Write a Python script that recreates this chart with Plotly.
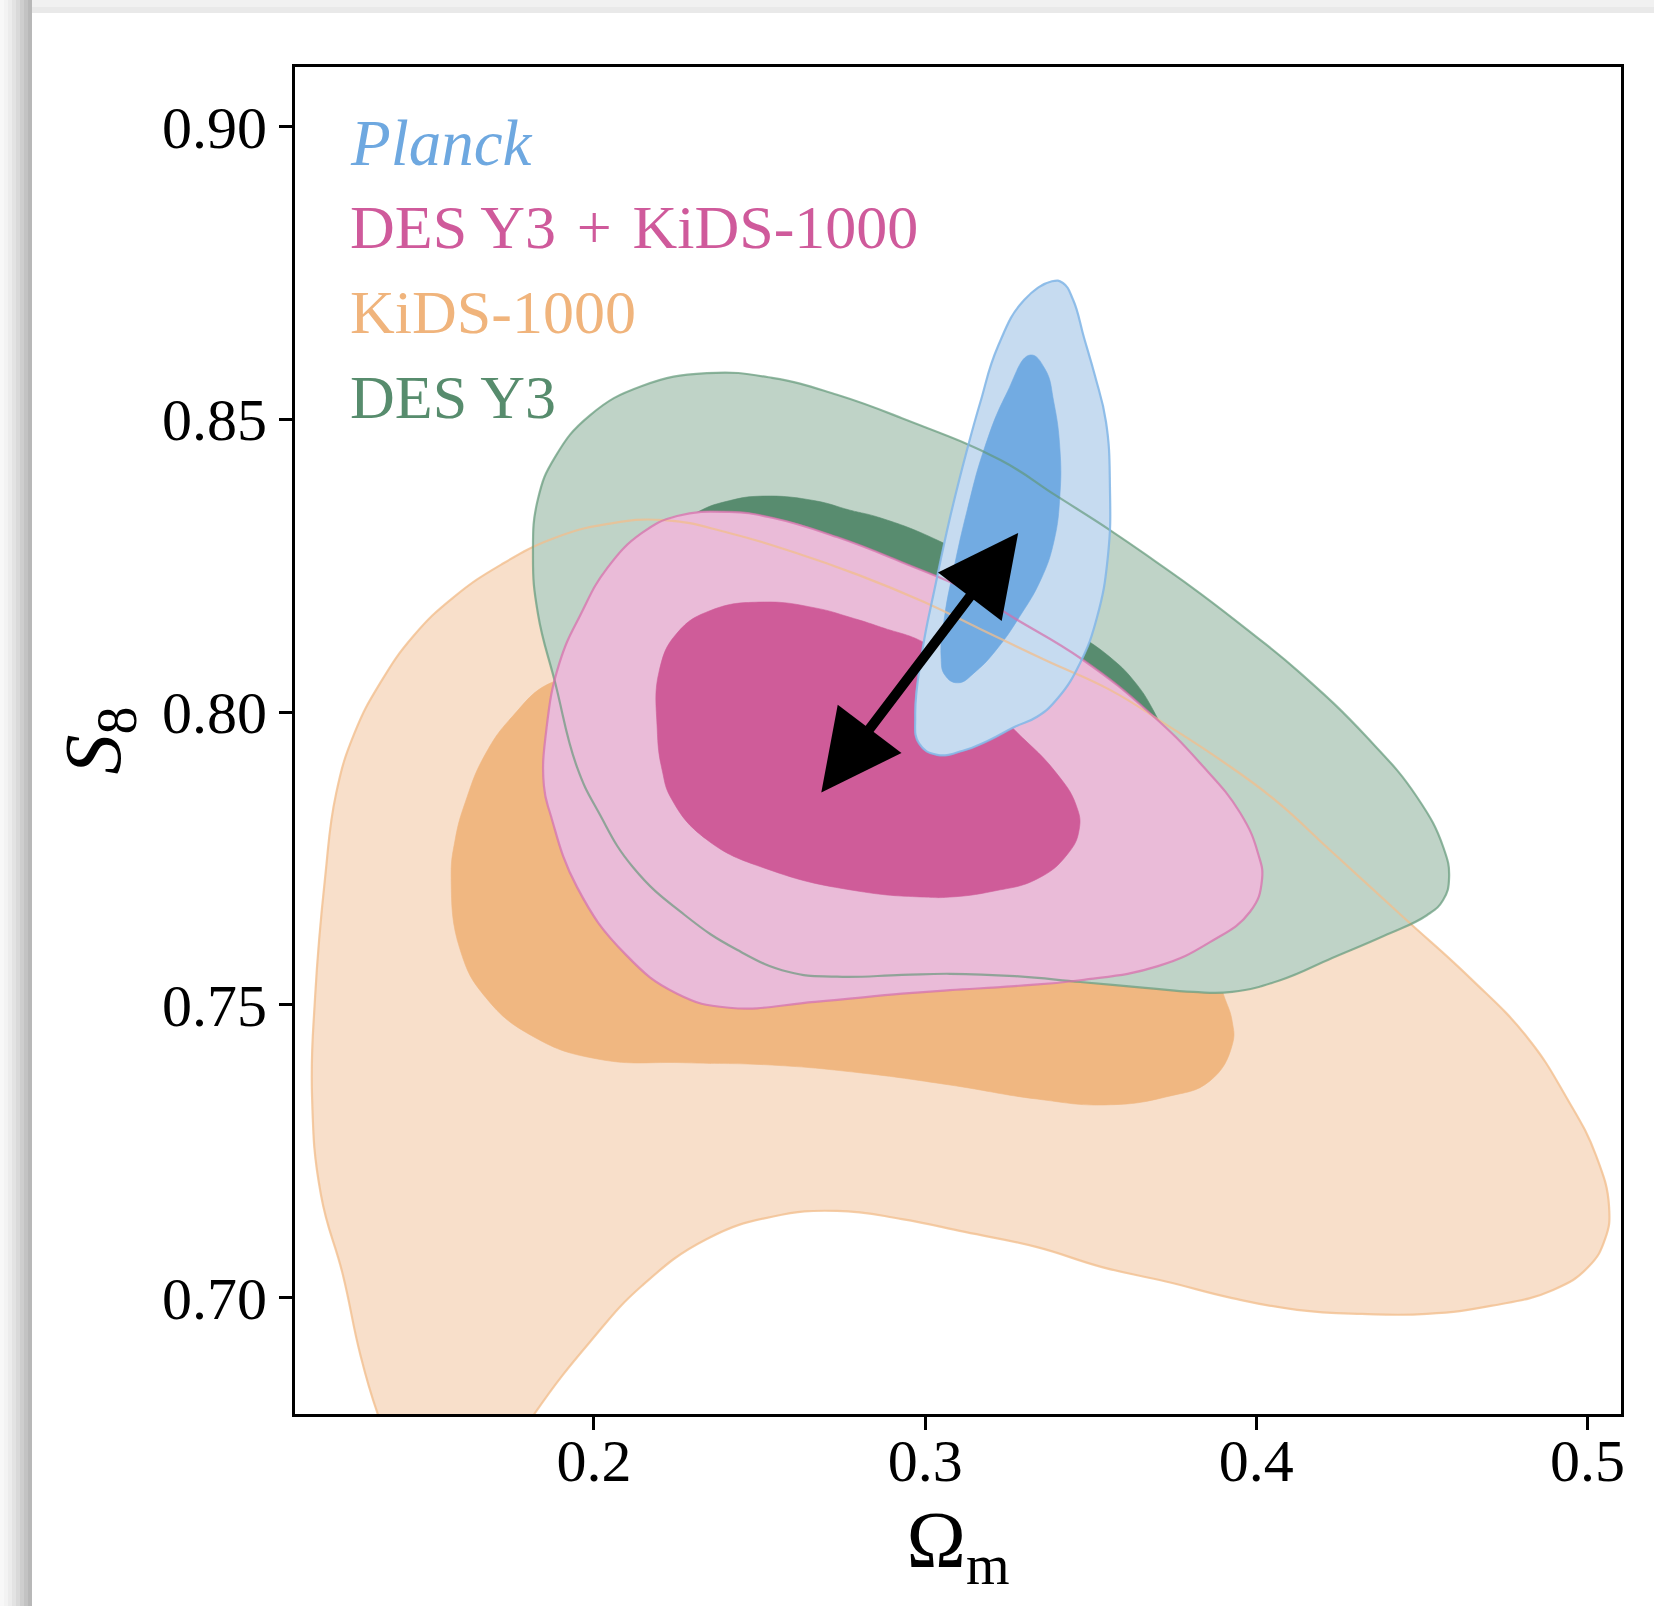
import plotly.graph_objects as go

# ---------------- data (in data units) ----------------
x_ticks = [0.2, 0.3, 0.4, 0.5]
x_tick_labels = ["0.2", "0.3", "0.4", "0.5"]
y_ticks = [0.70, 0.75, 0.80, 0.85, 0.90]
y_tick_labels = ["0.70", "0.75", "0.80", "0.85", "0.90"]

# KiDS-1000 outer (95%) contour
kids_outer_x = [0.1415, 0.1345, 0.1294, 0.1242, 0.1176, 0.1149, 0.1158, 0.1188, 0.1222, 0.1277,
                0.1354, 0.1455, 0.1576, 0.1720, 0.1879, 0.2038, 0.2212, 0.2408, 0.2604, 0.2800,
                0.2997, 0.3166, 0.3362, 0.3558, 0.3724, 0.3887, 0.4056, 0.4223, 0.4449, 0.4645,
                0.4817, 0.4935, 0.5026, 0.5065, 0.5053, 0.5002, 0.4896, 0.4712, 0.4515, 0.4319,
                0.4123, 0.3927, 0.3730, 0.3534, 0.3338, 0.3120, 0.2930, 0.2734, 0.2538, 0.2341,
                0.2145, 0.1988, 0.1825, 0.1716]
kids_outer_y = [0.6706, 0.6805, 0.6904, 0.7039, 0.7175, 0.7343, 0.7512, 0.7715, 0.7862, 0.7964,
                0.8049, 0.8130, 0.8196, 0.8252, 0.8297, 0.8321, 0.8328, 0.8306, 0.8273, 0.8234,
                0.8188, 0.8142, 0.8089, 0.8038, 0.7980, 0.7920, 0.7850, 0.7764, 0.7647, 0.7546,
                0.7445, 0.7343, 0.7242, 0.7155, 0.7100, 0.7052, 0.7013, 0.6986, 0.6972, 0.6972,
                0.6979, 0.6999, 0.7027, 0.7052, 0.7086, 0.7112, 0.7134, 0.7148, 0.7138, 0.7100,
                0.7020, 0.6924, 0.6805, 0.6706]

# KiDS-1000 inner (68%) contour
kids_inner_x = [0.1870, 0.1753, 0.1671, 0.1614, 0.1581, 0.1569, 0.1596, 0.1674, 0.1819, 0.2015,
                0.2275, 0.2538, 0.2800, 0.3075, 0.3338, 0.3546, 0.3730, 0.3860, 0.3927, 0.3927,
                0.3900, 0.3845, 0.3724, 0.3528, 0.3226, 0.2864, 0.2502, 0.2169, 0.1988]
kids_inner_y = [0.8050, 0.7992, 0.7927, 0.7850, 0.7782, 0.7713, 0.7594, 0.7512, 0.7445, 0.7407,
                0.7401, 0.7397, 0.7384, 0.7363, 0.7339, 0.7329, 0.7343, 0.7370, 0.7431, 0.7472,
                0.7519, 0.7611, 0.7747, 0.7875, 0.7978, 0.8029, 0.8055, 0.8063, 0.8058]

# DES Y3 outer contour
des_outer_x = [0.1831, 0.1816, 0.1831, 0.1883, 0.1988, 0.2145, 0.2341, 0.2538, 0.2734, 0.2930,
               0.3226, 0.3392, 0.3558, 0.3694, 0.3830, 0.3981, 0.4132, 0.4334, 0.4485, 0.4564,
               0.4582, 0.4564, 0.4515, 0.4386, 0.4229, 0.4072, 0.3927, 0.3809, 0.3664, 0.3468,
               0.3271, 0.3075, 0.2930, 0.2734, 0.2589, 0.2432, 0.2275, 0.2118, 0.2015, 0.1949,
               0.1883]
des_outer_y = [0.8168, 0.8267, 0.8364, 0.8436, 0.8507, 0.8557, 0.8579, 0.8571, 0.8542, 0.8502,
               0.8431, 0.8371, 0.8311, 0.8258, 0.8203, 0.8137, 0.8067, 0.7957, 0.7855, 0.7770,
               0.7717, 0.7679, 0.7653, 0.7618, 0.7580, 0.7542, 0.7522, 0.7522, 0.7529, 0.7539,
               0.7549, 0.7553, 0.7551, 0.7548, 0.7556, 0.7594, 0.7653, 0.7735, 0.7828, 0.7906,
               0.8050]

# DES Y3 inner contour
des_inner_x = [0.2215, 0.2314, 0.2408, 0.2511, 0.2668, 0.2773, 0.2864, 0.3036, 0.3226, 0.3377,
               0.3437, 0.3558, 0.3628, 0.3688, 0.3733, 0.3755, 0.3709, 0.3468, 0.3075, 0.2683,
               0.2320, 0.2109, 0.2018, 0.2018, 0.2094, 0.2154]
des_inner_y = [0.8302, 0.8342, 0.8361, 0.8369, 0.8361, 0.8345, 0.8332, 0.8294, 0.8234, 0.8174,
               0.8144, 0.8094, 0.8055, 0.8004, 0.7944, 0.7867, 0.7747, 0.7662, 0.7619, 0.7619,
               0.7671, 0.7764, 0.7901, 0.8038, 0.8191, 0.8260]

# DES Y3 + KiDS-1000 outer contour
comb_outer_x = [0.1849, 0.1857, 0.1896, 0.1961, 0.2040, 0.2145, 0.2251, 0.2408, 0.2538, 0.2734,
                0.2930, 0.3151, 0.3265, 0.3477, 0.3679, 0.3830, 0.3951, 0.4005, 0.4017, 0.3981,
                0.3860, 0.3703, 0.3468, 0.3271, 0.3075, 0.2930, 0.2668, 0.2408, 0.2251, 0.2094,
                0.1949, 0.1870]
comb_outer_y = [0.7874, 0.7973, 0.8084, 0.8168, 0.8246, 0.8306, 0.8335, 0.8342, 0.8332, 0.8299,
                0.8256, 0.8202, 0.8162, 0.8089, 0.7998, 0.7913, 0.7828, 0.7759, 0.7713, 0.7659,
                0.7607, 0.7566, 0.7542, 0.7532, 0.7525, 0.7519, 0.7505, 0.7495, 0.7519, 0.7587,
                0.7701, 0.7823]

# DES Y3 + KiDS-1000 inner contour
comb_inner_x = [0.2191, 0.2197, 0.2251, 0.2354, 0.2511, 0.2668, 0.2773, 0.2867, 0.3009, 0.3136,
                0.3256, 0.3389, 0.3456, 0.3465, 0.3428, 0.3338, 0.3205, 0.3075, 0.2997, 0.2800,
                0.2538, 0.2341, 0.2236, 0.2206]
comb_inner_y = [0.7973, 0.8070, 0.8135, 0.8174, 0.8188, 0.8178, 0.8162, 0.8145, 0.8115, 0.8055,
                0.7978, 0.7901, 0.7841, 0.7799, 0.7756, 0.7715, 0.7694, 0.7684, 0.7684, 0.7694,
                0.7729, 0.7782, 0.7850, 0.7901]

# Planck outer contour
planck_outer_x = [0.3383, 0.3299, 0.3220, 0.3166, 0.3127, 0.3075, 0.3030, 0.2991, 0.2970, 0.2982,
                  0.3036, 0.3114, 0.3193, 0.3271, 0.3338, 0.3401, 0.3468, 0.3519, 0.3552, 0.3558,
                  0.3546, 0.3513, 0.3480, 0.3447, 0.3416]
planck_outer_y = [0.8736, 0.8704, 0.8625, 0.8528, 0.8449, 0.8332, 0.8214, 0.8103, 0.7995, 0.7946,
                  0.7927, 0.7934, 0.7952, 0.7975, 0.7992, 0.8024, 0.8084, 0.8162, 0.8267, 0.8385,
                  0.8496, 0.8574, 0.8639, 0.8704, 0.8733]

# Planck inner contour
planck_inner_x = [0.3317, 0.3244, 0.3178, 0.3127, 0.3087, 0.3060, 0.3048, 0.3060, 0.3099, 0.3154,
                  0.3220, 0.3284, 0.3350, 0.3389, 0.3407, 0.3407, 0.3389, 0.3362]
planck_inner_y = [0.8610, 0.8542, 0.8449, 0.8345, 0.8246, 0.8168, 0.8096, 0.8063, 0.8050, 0.8070,
                  0.8110, 0.8162, 0.8227, 0.8292, 0.8371, 0.8449, 0.8528, 0.8586]

# double-headed arrow end points (Omega_m, S8)
arrow_x = [0.2683, 0.3281]
arrow_y = [0.7860, 0.8306]

legend_labels = ["<i>Planck</i>", "DES Y3\u2004+\u2004KiDS-1000", "KiDS-1000", "DES Y3"]
legend_colors = ["#6ea8e0", "#cf5a9b", "#f0b47c", "#578c6d"]

# ---------------- figure ----------------
W, H = 1654, 1606
ML, MR, MT, MB = 295, 33, 67, 192
PW, PH = W - ML - MR, H - MT - MB


def px_x(X):
    return (X - ML) / PW


def px_y(Y):
    return (H - MB - Y) / PH


fig = go.Figure()
SMOOTH = 1.3


def closed(v):
    return list(v) + [v[0]]


def add_fill(xs, ys, color):
    fig.add_trace(go.Scatter(
        x=closed(xs), y=closed(ys), mode="lines", fill="toself", fillcolor=color,
        line=dict(width=0.6, color=color, shape="spline", smoothing=SMOOTH),
        hoverinfo="skip", showlegend=False))


def add_edge(xs, ys, color, width=2.2):
    fig.add_trace(go.Scatter(
        x=closed(xs), y=closed(ys), mode="lines",
        line=dict(width=width, color=color, shape="spline", smoothing=SMOOTH),
        hoverinfo="skip", showlegend=False))


add_fill(kids_outer_x, kids_outer_y, "#f8dfca")
add_fill(kids_inner_x, kids_inner_y, "#f0b781")
add_fill(des_outer_x, des_outer_y, "#bfd3c7")
add_fill(des_inner_x, des_inner_y, "#588c6f")
add_fill(comb_outer_x, comb_outer_y, "#eabbd8")
add_fill(comb_inner_x, comb_inner_y, "#cf5c99")
add_fill(planck_outer_x, planck_outer_y, "#c6dbf0")
add_fill(planck_inner_x, planck_inner_y, "#72abe2")

add_edge(kids_outer_x, kids_outer_y, "rgba(242,190,140,0.75)")
add_edge(des_outer_x, des_outer_y, "rgba(95,150,118,0.65)")
add_edge(comb_outer_x, comb_outer_y, "rgba(212,110,170,0.7)")
add_edge(planck_outer_x, planck_outer_y, "rgba(130,182,230,0.85)")

# arrow
fig.add_annotation(
    x=arrow_x[1], y=arrow_y[1], ax=arrow_x[0], ay=arrow_y[0],
    xref="x", yref="y", axref="x", ayref="y", text="", showarrow=True,
    arrowhead=2, startarrowhead=2, arrowside="end+start",
    arrowsize=1.6, startarrowsize=1.6, arrowwidth=10, arrowcolor="black",
    standoff=0, startstandoff=0)

# legend texts
legend_ypix = [143, 227, 312, 397]
legend_sizes = [65, 62, 62, 62]
for lab, col, yp, fs in zip(legend_labels, legend_colors, legend_ypix, legend_sizes):
    fig.add_annotation(
        x=px_x(348), y=px_y(yp), xref="paper", yref="paper", text=lab,
        showarrow=False, xanchor="left", yanchor="middle",
        font=dict(size=fs, color=col, family="Liberation Serif"))

# screenshot shadow on the left and top
left_greys = ["#f8f8f8", "#f3f3f3", "#ececec", "#e3e3e3", "#d9d9d9", "#cecece", "#c3c3c3", "#b8b8b8"]
shapes = []
for i, c in enumerate(left_greys):
    shapes.append(dict(type="rect", xref="paper", yref="paper",
                       x0=px_x(4 * i), x1=px_x(4 * i + 4), y0=px_y(H), y1=px_y(0),
                       fillcolor=c, line=dict(width=0), layer="below"))
shapes.append(dict(type="rect", xref="paper", yref="paper",
                   x0=px_x(32), x1=px_x(W), y0=px_y(7), y1=px_y(0),
                   fillcolor="#f1f1f1", line=dict(width=0), layer="below"))
shapes.append(dict(type="rect", xref="paper", yref="paper",
                   x0=px_x(32), x1=px_x(W), y0=px_y(13), y1=px_y(7),
                   fillcolor="#e9e9e9", line=dict(width=0), layer="below"))

fig.update_layout(
    width=W, height=H,
    margin=dict(l=ML, r=MR, t=MT, b=MB, autoexpand=False),
    paper_bgcolor="white", plot_bgcolor="white", showlegend=False,
    font=dict(family="Liberation Serif", color="black"),
    shapes=shapes,
)
axis_common = dict(
    ticks="outside", ticklen=13, tickwidth=2.5, tickcolor="black",
    showline=True, linecolor="black", linewidth=2.8, mirror=True,
    showgrid=False, zeroline=False, tickfont=dict(size=60, color="black"),
)
fig.update_xaxes(range=[0.10975, 0.5101], tickvals=x_ticks, ticktext=x_tick_labels,
                 ticklabelstandoff=-21,
                 title=dict(text="Ω<sub>m</sub>", font=dict(size=80), standoff=19),
                 **axis_common)
fig.update_yaxes(range=[0.6801, 0.9102], tickvals=y_ticks, ticktext=y_tick_labels,
                 title=dict(text="<i>S</i><sub>8</sub>", font=dict(size=80), standoff=16),
                 **axis_common)

fig.write_html("out.html")
